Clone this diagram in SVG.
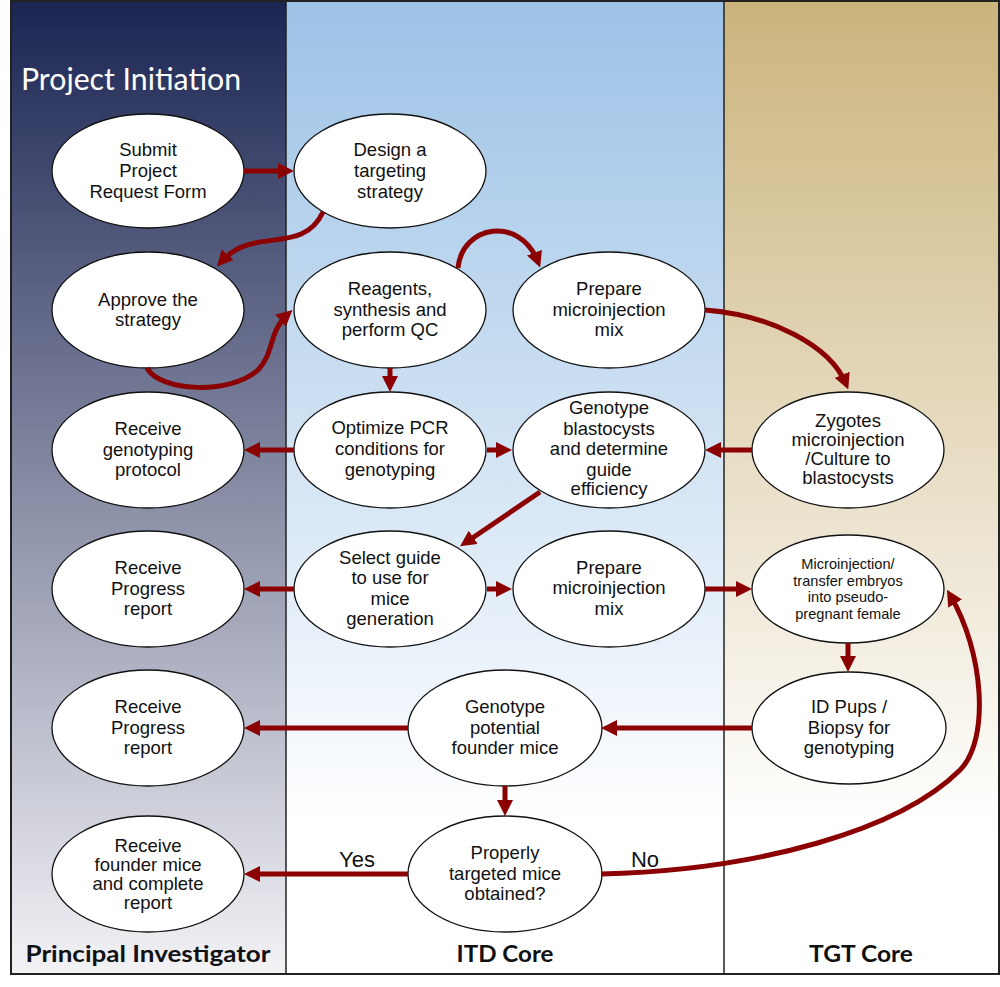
<svg xmlns="http://www.w3.org/2000/svg" width="1000" height="987" viewBox="0 0 1000 987">
<style>
.node ellipse{fill:#ffffff;stroke:#111;stroke-width:1.3}
.node text{font-family:"Liberation Sans",Arial,sans-serif;font-size:18.5px;fill:#111;text-anchor:middle}
.node text.sm{font-size:14.6px}
.conn path{fill:none;stroke:#8b0000;stroke-width:5;marker-end:url(#ah)}
.lane{font-family:Lato,"Open Sans",sans-serif;font-weight:bold;font-size:23px;fill:#111;text-anchor:middle}
.lbl{font-family:"Liberation Sans",Arial,sans-serif;font-size:22px;fill:#111;text-anchor:middle}
</style>
<defs>
<linearGradient id="gPI" x1="0" y1="0" x2="0" y2="1">
<stop offset="0" stop-color="#1b2552"/>
<stop offset="1" stop-color="#f3f3f6"/>
</linearGradient>
<linearGradient id="gITD" x1="0" y1="0" x2="0" y2="1">
<stop offset="0" stop-color="#9cc2e6"/>
<stop offset="0.85" stop-color="#ffffff"/>
</linearGradient>
<linearGradient id="gTGT" x1="0" y1="0" x2="0" y2="1">
<stop offset="0" stop-color="#cbb47c"/>
<stop offset="0.85" stop-color="#ffffff"/>
</linearGradient>
<marker id="ah" markerUnits="userSpaceOnUse" markerWidth="16" markerHeight="16" viewBox="0 0 16 16" refX="10" refY="8" orient="auto">
<path d="M0,0 L16,8 L0,16 z" fill="#8b0000"/>
</marker>
</defs>
<rect x="0" y="0" width="1000" height="987" fill="#ffffff"/>
<g id="lanes">
<rect x="11" y="1" width="275" height="973" fill="url(#gPI)"/>
<rect x="286" y="1" width="438" height="973" fill="url(#gITD)"/>
<rect x="724" y="1" width="275" height="973" fill="url(#gTGT)"/>
<line x1="286" y1="1" x2="286" y2="974" stroke="#222" stroke-width="1.5"/>
<line x1="724" y1="1" x2="724" y2="974" stroke="#222" stroke-width="1.5"/>
<rect x="11" y="1" width="988" height="973" fill="none" stroke="#222" stroke-width="2"/>
<text x="21" y="90" font-family="Lato,'Open Sans',sans-serif" font-size="30" fill="#ffffff" textLength="220" lengthAdjust="spacingAndGlyphs">Project Initiation</text>
<text class="lane" x="148" y="962" textLength="245" lengthAdjust="spacingAndGlyphs">Principal Investigator</text>
<text class="lane" x="505" y="962" textLength="97" lengthAdjust="spacingAndGlyphs">ITD Core</text>
<text class="lane" x="861" y="962" textLength="104" lengthAdjust="spacingAndGlyphs">TGT Core</text>
</g>
<g id="n-submit" class="node"><ellipse cx="148" cy="171" rx="96" ry="57"/>
<text x="148" y="156">Submit</text><text x="148" y="177">Project</text><text x="148" y="198">Request Form</text></g>
<g id="n-design" class="node"><ellipse cx="390" cy="171" rx="96" ry="57"/>
<text x="390" y="156">Design a</text><text x="390" y="177">targeting</text><text x="390" y="198">strategy</text></g>
<g id="n-approve" class="node"><ellipse cx="148" cy="310" rx="96" ry="58"/>
<text x="148" y="306">Approve the</text><text x="148" y="326">strategy</text></g>
<g id="n-reagents" class="node"><ellipse cx="390" cy="310" rx="96" ry="58"/>
<text x="390" y="295">Reagents,</text><text x="390" y="316">synthesis and</text><text x="390" y="336">perform QC</text></g>
<g id="n-mix1" class="node"><ellipse cx="609" cy="310" rx="96" ry="58"/>
<text x="609" y="295">Prepare</text><text x="609" y="316">microinjection</text><text x="609" y="336">mix</text></g>
<g id="n-recgeno" class="node"><ellipse cx="148" cy="450" rx="96" ry="58"/>
<text x="148" y="435">Receive</text><text x="148" y="456">genotyping</text><text x="148" y="476">protocol</text></g>
<g id="n-optimize" class="node"><ellipse cx="390" cy="450" rx="96" ry="58"/>
<text x="390" y="434">Optimize PCR</text><text x="390" y="455">conditions for</text><text x="390" y="476">genotyping</text></g>
<g id="n-blasto" class="node"><ellipse cx="609" cy="450" rx="96" ry="58"/>
<text x="609" y="414">Genotype</text><text x="609" y="435">blastocysts</text><text x="609" y="455">and determine</text><text x="609" y="476">guide</text><text x="609" y="495">efficiency</text></g>
<g id="n-zygotes" class="node"><ellipse cx="848" cy="450" rx="96" ry="58"/>
<text x="848" y="427" font-size="17.5">Zygotes</text><text x="848" y="446" font-size="17.5">microinjection</text><text x="848" y="465" font-size="17.5">/Culture to</text><text x="848" y="484" font-size="17.5">blastocysts</text></g>
<g id="n-recprog1" class="node"><ellipse cx="148" cy="589" rx="96" ry="58"/>
<text x="148" y="574">Receive</text><text x="148" y="595">Progress</text><text x="148" y="615">report</text></g>
<g id="n-select" class="node"><ellipse cx="390" cy="589" rx="96" ry="58"/>
<text x="390" y="564">Select guide</text><text x="390" y="584">to use for</text><text x="390" y="605">mice</text><text x="390" y="625">generation</text></g>
<g id="n-mix2" class="node"><ellipse cx="609" cy="589" rx="96" ry="58"/>
<text x="609" y="574">Prepare</text><text x="609" y="594">microinjection</text><text x="609" y="615">mix</text></g>
<g id="n-transfer" class="node"><ellipse cx="848" cy="589" rx="96" ry="54"/>
<text class="sm" x="848" y="569">Microinjection/</text><text class="sm" x="848" y="585.7">transfer embryos</text><text class="sm" x="848" y="602.4">into pseudo-</text><text class="sm" x="848" y="619">pregnant female</text></g>
<g id="n-recprog2" class="node"><ellipse cx="148" cy="728" rx="96" ry="58"/>
<text x="148" y="713">Receive</text><text x="148" y="734">Progress</text><text x="148" y="754">report</text></g>
<g id="n-founder" class="node"><ellipse cx="505" cy="728" rx="97" ry="58"/>
<text x="505" y="713">Genotype</text><text x="505" y="734">potential</text><text x="505" y="754">founder mice</text></g>
<g id="n-pups" class="node"><ellipse cx="849" cy="728" rx="97" ry="56"/>
<text x="849" y="713">ID Pups /</text><text x="849" y="734">Biopsy for</text><text x="849" y="754">genotyping</text></g>
<g id="n-recfounder" class="node"><ellipse cx="148" cy="874" rx="96" ry="58"/>
<text x="148" y="851.5" font-size="17.5">Receive</text><text x="148" y="870.5" font-size="17.5">founder mice</text><text x="148" y="889.5" font-size="17.5">and complete</text><text x="148" y="908.5" font-size="17.5">report</text></g>
<g id="n-properly" class="node"><ellipse cx="505" cy="874" rx="97" ry="58"/>
<text x="505" y="859">Properly</text><text x="505" y="880">targeted mice</text><text x="505" y="900">obtained?</text></g>
<g id="connectors" class="conn">
<path d="M244,171 L288,171"/>
<path d="M323,212 C310,240 285,238 260,242 C242,245 231,251 221,262"/>
<path d="M147,368 C160,392 230,395 258,370 C275,352 268,332 288,314"/>
<path d="M458,268 C462,225 520,215 538,262"/>
<path d="M390,368 L390,386"/>
<path d="M705,310 C770,315 830,345 846,384"/>
<path d="M294,450 L250,450"/>
<path d="M487,450 L506,450"/>
<path d="M752,450 L711,450"/>
<path d="M540,492 L465,543"/>
<path d="M294,589 L250,589"/>
<path d="M487,589 L506,589"/>
<path d="M705,589 L746,589"/>
<path d="M848,643 L848,666"/>
<path d="M752,728 L607,728"/>
<path d="M408,728 L250,728"/>
<path d="M505,786 L505,810"/>
<path d="M408,874 L250,874"/>
<path d="M601,874 C760,870 900,830 960,770 C990,740 984,652 950,595"/>
<text class="lbl" x="357" y="867">Yes</text>
<text class="lbl" x="645" y="867">No</text>
</g>
</svg>
